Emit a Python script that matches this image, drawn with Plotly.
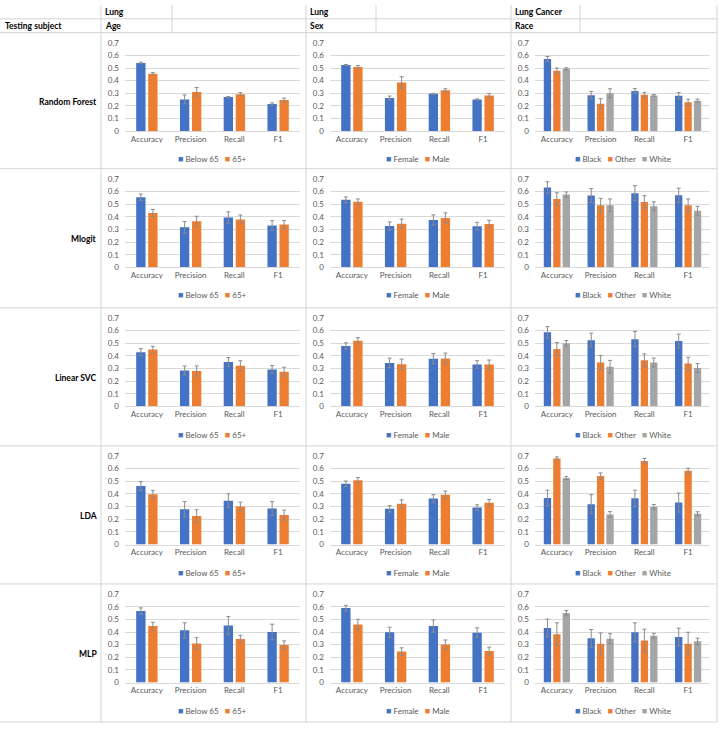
"""
Grid of grouped bar charts: model performance by patient subgroup.
"""

import plotly.graph_objects as go

metrics = ['Accuracy', 'Precision', 'Recall', 'F1']
models = ['Random Forest', 'Mlogit', 'Linear SVC', 'LDA', 'MLP']
cancer_types = ['Lung', 'Lung', 'Lung Cancer']
attributes = ['Age', 'Sex', 'Race']
age_groups = ['Below 65', '65+']
sex_groups = ['Female', 'Male']
race_groups = ['Black', 'Other', 'White']

# values per group (rows) x metric (cols)
rf_age = [[0.540, 0.252, 0.270, 0.216], [0.455, 0.311, 0.293, 0.247]]
rf_age_err = [[0.006, 0.035, 0.005, 0.008], [0.010, 0.035, 0.012, 0.015]]
rf_sex = [[0.524, 0.262, 0.296, 0.252], [0.509, 0.386, 0.324, 0.283]]
rf_sex_err = [[0.004, 0.016, 0.004, 0.004], [0.010, 0.045, 0.012, 0.015]]
rf_race = [[0.571, 0.285, 0.319, 0.280], [0.478, 0.218, 0.288, 0.229],
           [0.494, 0.301, 0.283, 0.242]]
rf_race_err = [[0.020, 0.030, 0.018, 0.025], [0.022, 0.040, 0.020, 0.025],
               [0.008, 0.035, 0.007, 0.012]]

mlogit_age = [[0.555, 0.318, 0.394, 0.331], [0.430, 0.364, 0.379, 0.338]]
mlogit_age_err = [[0.025, 0.045, 0.045, 0.038], [0.028, 0.040, 0.035, 0.032]]
mlogit_sex = [[0.535, 0.327, 0.375, 0.326], [0.519, 0.344, 0.391, 0.342]]
mlogit_sex_err = [[0.022, 0.032, 0.040, 0.030], [0.022, 0.038, 0.040, 0.030]]
mlogit_race = [[0.632, 0.568, 0.586, 0.571], [0.540, 0.491, 0.517, 0.491],
               [0.576, 0.491, 0.483, 0.447]]
mlogit_race_err = [[0.045, 0.055, 0.060, 0.055], [0.050, 0.055, 0.050, 0.050],
                   [0.020, 0.050, 0.035, 0.035]]

svc_age = [[0.429, 0.285, 0.352, 0.293], [0.450, 0.280, 0.321, 0.275]]
svc_age_err = [[0.028, 0.035, 0.035, 0.030], [0.025, 0.040, 0.040, 0.035]]
svc_sex = [[0.478, 0.344, 0.378, 0.332], [0.519, 0.334, 0.380, 0.332]]
svc_sex_err = [[0.025, 0.038, 0.040, 0.030], [0.025, 0.040, 0.042, 0.035]]
svc_race = [[0.586, 0.524, 0.532, 0.517], [0.455, 0.347, 0.365, 0.339],
            [0.499, 0.314, 0.347, 0.303]]
svc_race_err = [[0.045, 0.055, 0.060, 0.055], [0.050, 0.055, 0.050, 0.050],
                [0.022, 0.050, 0.035, 0.035]]

lda_age = [[0.462, 0.279, 0.346, 0.284], [0.398, 0.225, 0.300, 0.233]]
lda_age_err = [[0.035, 0.060, 0.055, 0.055], [0.030, 0.050, 0.035, 0.040]]
lda_sex = [[0.480, 0.282, 0.364, 0.292], [0.509, 0.323, 0.393, 0.331]]
lda_sex_err = [[0.022, 0.025, 0.030, 0.022], [0.020, 0.030, 0.030, 0.025]]
lda_race = [[0.368, 0.319, 0.365, 0.332], [0.681, 0.541, 0.661, 0.583],
            [0.526, 0.238, 0.298, 0.244]]
lda_race_err = [[0.062, 0.075, 0.065, 0.075], [0.012, 0.025, 0.020, 0.020],
                [0.012, 0.022, 0.018, 0.015]]

mlp_age = [[0.566, 0.413, 0.452, 0.400], [0.447, 0.310, 0.344, 0.297]]
mlp_age_err = [[0.025, 0.060, 0.070, 0.062], [0.030, 0.045, 0.030, 0.033]]
mlp_sex = [[0.589, 0.398, 0.447, 0.395], [0.460, 0.245, 0.302, 0.250]]
mlp_sex_err = [[0.022, 0.040, 0.048, 0.038], [0.040, 0.030, 0.035, 0.030]]
mlp_race = [[0.432, 0.350, 0.398, 0.360], [0.383, 0.308, 0.332, 0.308],
            [0.550, 0.347, 0.370, 0.326]]
mlp_race_err = [[0.070, 0.070, 0.075, 0.070], [0.090, 0.085, 0.090, 0.090],
                [0.020, 0.040, 0.020, 0.025]]

panels = [
    [(rf_age, rf_age_err), (rf_sex, rf_sex_err), (rf_race, rf_race_err)],
    [(mlogit_age, mlogit_age_err), (mlogit_sex, mlogit_sex_err), (mlogit_race, mlogit_race_err)],
    [(svc_age, svc_age_err), (svc_sex, svc_sex_err), (svc_race, svc_race_err)],
    [(lda_age, lda_age_err), (lda_sex, lda_sex_err), (lda_race, lda_race_err)],
    [(mlp_age, mlp_age_err), (mlp_sex, mlp_sex_err), (mlp_race, mlp_race_err)],
]
group_names = [age_groups, sex_groups, race_groups]

# page geometry (pixels)
W, H = 720, 730
FONT = 'Lato, Carlito, Calibri, sans-serif'
COLORS = ['#4472C4', '#ED7D31', '#A5A5A5']
GRID = '#d9d9d9'
TICK = '#595959'
BORDER = '#d4d4d4'

col_lines = [101, 306, 511, 717]
sub_col_lines = [172, 376, 580]
row_lines = [28, 166, 307, 447, 587, 727]
plot_x0 = [125, 330, 535]
plot_w = 175
plot_h = 90


def px_x(x):
    return x / W


def px_y(y):
    return 1 - y / H


fig = go.Figure()
annotations = []
shapes = []

for r in range(len(models)):
    top = row_lines[r] + 10
    for c in range(3):
        k = r * 3 + c + 1
        xname = 'x' if k == 1 else f'x{k}'
        yname = 'y' if k == 1 else f'y{k}'
        vals, errs = panels[r][c]
        names = group_names[c]
        n = len(names)

        # Excel-like cluster: gap width 240%, small gap between bars
        bar_w = 1.0 / (n + 0.29 * (n - 1) + 2.4)
        slot = bar_w * 1.29
        for i, name in enumerate(names):
            centre = (i - (n - 1) / 2) * slot
            fig.add_trace(go.Bar(
                x=metrics, y=vals[i],
                width=bar_w, offset=centre - bar_w / 2,
                marker=dict(color=COLORS[i], line=dict(width=0)),
                error_y=dict(type='data', array=errs[i], color='#8c8c8c',
                             thickness=1, width=2),
                name=name, showlegend=False,
                xaxis=xname, yaxis=yname,
            ))

        x0 = plot_x0[c]
        xa = dict(domain=[px_x(x0), px_x(x0 + plot_w)], anchor=yname,
                  type='category', showgrid=False, showline=True,
                  linecolor=GRID, linewidth=1, ticks='',
                  tickfont=dict(size=8, color=TICK, family=FONT))
        ya = dict(domain=[px_y(top + plot_h), px_y(top)], anchor=xname,
                  range=[0, 0.702], dtick=0.1, tick0=0, showgrid=True,
                  gridcolor=GRID, gridwidth=1, zeroline=False, showline=False,
                  ticks='', ticklabelstandoff=5,
                  tickfont=dict(size=8, color=TICK, family=FONT))
        fig.update_layout({('xaxis' if k == 1 else f'xaxis{k}'): xa,
                           ('yaxis' if k == 1 else f'yaxis{k}'): ya})

        # legend under each chart
        parts = []
        for i, name in enumerate(names):
            parts.append(f'<span style="color:{COLORS[i]};font-size:9px">■</span> {name}')
        annotations.append(dict(
            text='&nbsp;&nbsp;&nbsp;'.join(parts),
            x=px_x(x0 + plot_w / 2), y=px_y(top + plot_h + 28),
            xref='paper', yref='paper', xanchor='center', yanchor='middle',
            showarrow=False, font=dict(size=8, color=TICK, family=FONT),
        ))

    # row label
    annotations.append(dict(
        text=f'<b>{models[r]}</b>',
        x=px_x(99), y=px_y((row_lines[r] + row_lines[r + 1]) / 2 + 1),
        xref='paper', yref='paper', xanchor='right', yanchor='middle',
        showarrow=False, font=dict(size=8.5, color='black', family=FONT),
    ))

# header cells
annotations.append(dict(
    text='<b>Testing subject</b>', x=px_x(3), y=px_y(21),
    xref='paper', yref='paper', xanchor='left', yanchor='middle',
    showarrow=False, font=dict(size=8.5, color='black', family=FONT)))
for c in range(3):
    for text, yy in [(cancer_types[c], 7), (attributes[c], 21)]:
        annotations.append(dict(
            text=f'<b>{text}</b>', x=px_x(col_lines[c] + 2), y=px_y(yy),
            xref='paper', yref='paper', xanchor='left', yanchor='middle',
            showarrow=False, font=dict(size=8.5, color='black', family=FONT)))

# table borders
for y in [14] + row_lines:
    shapes.append(dict(type='line', xref='paper', yref='paper',
                       x0=0, x1=px_x(col_lines[-1]), y0=px_y(y), y1=px_y(y),
                       line=dict(color=BORDER, width=1)))
for x in col_lines:
    shapes.append(dict(type='line', xref='paper', yref='paper',
                       x0=px_x(x), x1=px_x(x), y0=px_y(0), y1=px_y(row_lines[-1]),
                       line=dict(color=BORDER, width=1)))
for x in sub_col_lines:
    shapes.append(dict(type='line', xref='paper', yref='paper',
                       x0=px_x(x), x1=px_x(x), y0=px_y(0), y1=px_y(row_lines[0]),
                       line=dict(color=BORDER, width=1)))

fig.update_layout(
    width=W, height=H,
    margin=dict(l=0, r=0, t=0, b=0),
    paper_bgcolor='white', plot_bgcolor='white',
    barmode='group',
    showlegend=False,
    font=dict(family=FONT),
    annotations=annotations,
    shapes=shapes,
)

fig.write_html("out.html", config={'displayModeBar': False},
               post_script="document.body.style.margin='0';")
